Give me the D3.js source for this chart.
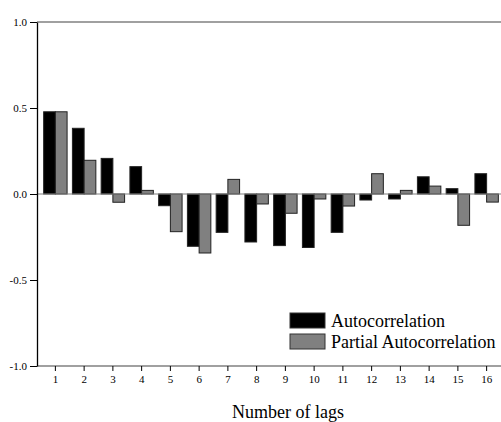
<!DOCTYPE html>
<html>
<head>
<meta charset="utf-8">
<script src="https://cdn.jsdelivr.net/npm/d3@7"></script>
<style>
  body { margin: 0; background: #fff; }
  svg { display: block; font-family: "Liberation Serif", "Times New Roman", serif; }
  svg text { font-family: "Liberation Serif", "Times New Roman", serif; }
</style>
</head>
<body>
<svg class="acf" width="501" height="422"></svg>
<script>
// lags and correlation values
let lags = [1, 2, 3, 4, 5, 6, 7, 8, 9, 10, 11, 12, 13, 14, 15, 16];
let acf = [0.478, 0.382, 0.207, 0.159, -0.068, -0.304, -0.223, -0.279, -0.300, -0.311, -0.223, -0.035, -0.029, 0.100, 0.031, 0.118];
let pacf = [0.478, 0.196, -0.048, 0.021, -0.219, -0.343, 0.085, -0.058, -0.112, -0.029, -0.070, 0.118, 0.021, 0.046, -0.182, -0.047];
let seriesNames = ["Autocorrelation", "Partial Autocorrelation"];
let yTicks = [-1.0, -0.5, 0.0, 0.5, 1.0];

let svg = d3.select("svg.acf"),
    margin = {top: 22, bottom: 56, left: 37, right: 0},
    width = svg.attr("width") - margin.left - margin.right,
    height = svg.attr("height") - margin.top - margin.bottom;

let g = svg.append("g")
    .attr("transform", "translate(" + margin.left + "," + margin.top + ")");

let xScale = d3.scaleBand()
    .domain(lags)
    .range([4, width])
    .paddingInner(0.185)
    .paddingOuter(0.0925);
let xSub = d3.scaleBand()
    .domain(seriesNames)
    .range([0, xScale.bandwidth()]);
let yScale = d3.scaleLinear()
    .domain([-1, 1])
    .range([height, 0]);
let colorScale = d3.scaleOrdinal()
    .domain(seriesNames)
    .range(["#000000", "#808080"]);

let rows = lags.map((l, i) => ({lag: l, values: [acf[i], pacf[i]]}));

// frame top line
g.append("line")
    .attr("x1", 0).attr("x2", width)
    .attr("y1", 0).attr("y2", 0)
    .attr("stroke", "#808080")
    .attr("stroke-width", 1.5);

// bars
let groups = g.selectAll(".lag")
    .data(rows)
    .join("g")
    .attr("class", "lag")
    .attr("transform", d => "translate(" + xScale(d.lag) + ",0)");

groups.selectAll("rect")
    .data(d => d.values.map((v, i) => ({name: seriesNames[i], value: v})))
    .join("rect")
    .attr("x", d => xSub(d.name))
    .attr("width", xSub.bandwidth())
    .attr("y", d => yScale(Math.max(0, d.value)))
    .attr("height", d => Math.abs(yScale(d.value) - yScale(0)))
    .attr("fill", d => colorScale(d.name))
    .attr("stroke", "#222")
    .attr("stroke-width", 1);

// zero line
g.append("line")
    .attr("x1", 0).attr("x2", width)
    .attr("y1", yScale(0)).attr("y2", yScale(0))
    .attr("stroke", "#808080")
    .attr("stroke-width", 1.2);

// x axis
let xAxis = g.append("g")
    .attr("transform", "translate(0," + height + ")")
    .call(d3.axisBottom(xScale).tickSize(5).tickPadding(4).tickSizeOuter(0));
xAxis.attr("font-family", null).attr("font-size", "11px");
xAxis.select(".domain")
    .attr("d", "M0,0H" + width)
    .attr("stroke", "#808080")
    .attr("stroke-width", 1.5);

// y axis, hyphen minus like the original
let yAxis = g.append("g")
    .call(d3.axisLeft(yScale).tickValues(yTicks)
        .tickFormat(d => d3.format(".1f")(d).replace("\u2212", "-"))
        .tickSize(7).tickPadding(3).tickSizeOuter(0));
yAxis.attr("font-family", null).attr("font-size", "11px");
yAxis.select(".domain").attr("stroke-width", 1.3);

// x-axis label
svg.append("text")
    .attr("x", 288)
    .attr("y", 418)
    .attr("text-anchor", "middle")
    .attr("font-size", "18px")
    .text("Number of lags");

// legend
let legend = svg.append("g")
    .attr("transform", "translate(290,313)");
let items = legend.selectAll("g")
    .data(seriesNames)
    .join("g")
    .attr("transform", (d, i) => "translate(0," + (i * 21) + ")");
items.append("rect")
    .attr("width", 35)
    .attr("height", 15)
    .attr("fill", d => colorScale(d))
    .attr("stroke", "#333")
    .attr("stroke-width", 1);
items.append("text")
    .attr("x", 41)
    .attr("y", 14)
    .attr("font-size", "18px")
    .text(d => d);
</script>
</body>
</html>
